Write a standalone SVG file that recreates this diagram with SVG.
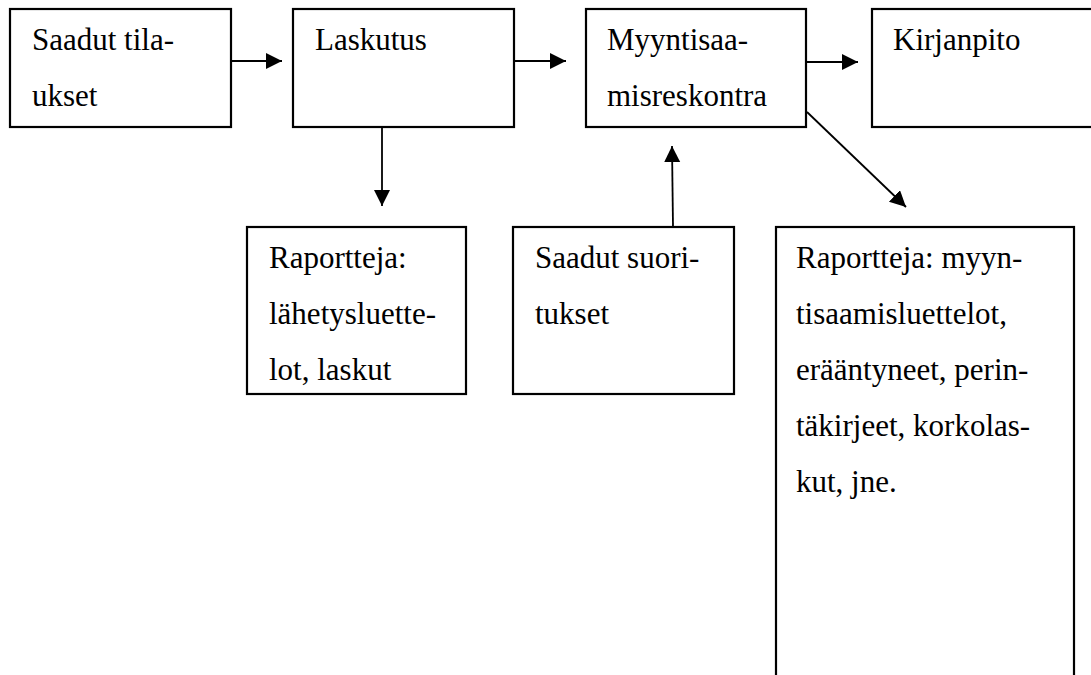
<svg xmlns="http://www.w3.org/2000/svg" width="1091" height="675" viewBox="0 0 1091 675">
<style>
.box{fill:#fff;stroke:#000;stroke-width:2.2}
.t{font-family:'Liberation Serif','Times New Roman',serif;font-size:31px;fill:#000}
.c{stroke:#000;stroke-width:1.8;fill:none}
</style>
<defs>
<marker id="ah" markerUnits="userSpaceOnUse" markerWidth="18" markerHeight="18" refX="16" refY="8" orient="auto">
<path d="M0,0 L16,8 L0,16 z" fill="#000"/>
</marker>
</defs>
<rect width="1091" height="675" fill="#fff"/>
<g id="n1"><rect class="box" x="10" y="9" width="221" height="118"/><text class="t" x="32" y="50">Saadut tila-</text><text class="t" x="32" y="106">ukset</text></g>
<g id="n2"><rect class="box" x="293" y="9" width="221" height="118"/><text class="t" x="315" y="50">Laskutus</text></g>
<g id="n3"><rect class="box" x="586" y="9" width="220" height="118"/><text class="t" x="607" y="50">Myyntisaa-</text><text class="t" x="607" y="106">misreskontra</text></g>
<g id="n4"><rect class="box" x="872" y="9" width="240" height="118"/><text class="t" x="893" y="50">Kirjanpito</text></g>
<g id="n5"><rect class="box" x="247" y="227" width="219" height="167"/><text class="t" x="269" y="268">Raportteja:</text><text class="t" x="269" y="324">lähetysluette-</text><text class="t" x="269" y="380">lot, laskut</text></g>
<g id="n6"><rect class="box" x="513" y="227" width="221" height="167"/><text class="t" x="535" y="268">Saadut suori-</text><text class="t" x="535" y="324">tukset</text></g>
<g id="n7"><rect class="box" x="776" y="227" width="298" height="470"/><text class="t" x="796" y="268">Raportteja: myyn-</text><text class="t" x="796" y="324">tisaamisluettelot,</text><text class="t" x="796" y="380">erääntyneet, perin-</text><text class="t" x="796" y="436">täkirjeet, korkolas-</text><text class="t" x="796" y="492">kut, jne.</text></g>
<g id="connectors">
<line class="c" x1="231" y1="61" x2="282" y2="61" marker-end="url(#ah)"/>
<line class="c" x1="514" y1="61" x2="566" y2="61" marker-end="url(#ah)"/>
<line class="c" x1="806" y1="62" x2="858" y2="62" marker-end="url(#ah)"/>
<line class="c" x1="382" y1="127" x2="382" y2="206" marker-end="url(#ah)"/>
<line class="c" x1="673" y1="227" x2="672" y2="146" marker-end="url(#ah)"/>
<line class="c" x1="807" y1="112" x2="906" y2="207" marker-end="url(#ah)"/>
</g>
</svg>
